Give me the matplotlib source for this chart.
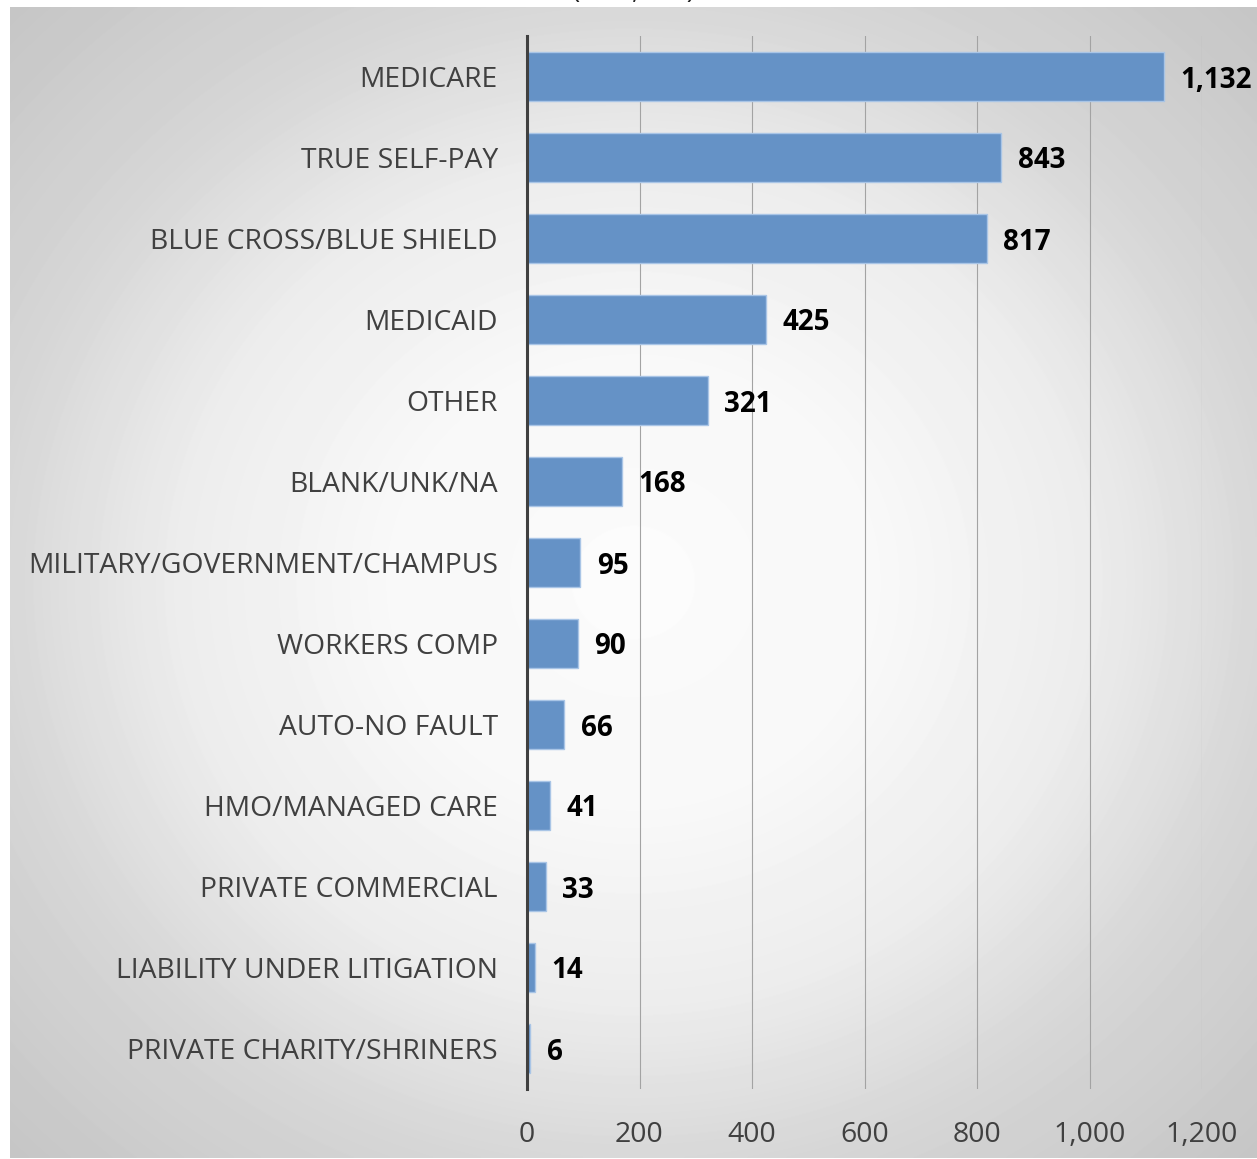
import numpy as np
import matplotlib
matplotlib.use("Agg")
import matplotlib.pyplot as plt

# Payer categories and patient counts
payers = [
    "MEDICARE", "TRUE SELF-PAY", "BLUE CROSS/BLUE SHIELD", "MEDICAID", "OTHER",
    "BLANK/UNK/NA", "MILITARY/GOVERNMENT/CHAMPUS", "WORKERS COMP",
    "AUTO-NO FAULT", "HMO/MANAGED CARE", "PRIVATE COMMERCIAL",
    "LIABILITY UNDER LITIGATION", "PRIVATE CHARITY/SHRINERS",
]
counts = [1132, 843, 817, 425, 321, 168, 95, 90, 66, 41, 33, 14, 6]
x_ticks = [0, 200, 400, 600, 800, 1000, 1200]

W, H = 1257, 1159
plt.rcParams["font.family"] = ["Open Sans", "DejaVu Sans"]

fig = plt.figure(figsize=(W / 100, H / 100), dpi=100)
fig.patch.set_facecolor("white")

# gray gradient panel, brightest at its centre
px0, py0, px1, py1 = 10, 7, 1257, 1158
bg = fig.add_axes([px0 / W, (H - py1) / H, (px1 - px0) / W, (py1 - py0) / H])
gx, gy = np.meshgrid(np.arange(px0, px1), np.arange(py0, py1))
cx, cy = (px0 + px1) / 2, (py0 + py1) / 2
r = np.hypot((gx - cx) / ((px1 - px0) / 2), (gy - cy) / ((py1 - py0) / 2))
shade = np.interp(r, [0.0, 0.4, 0.74, 1.03, 1.42], [252, 248, 236, 214, 197]) / 255
bg.imshow(shade, cmap="gray", vmin=0, vmax=1, aspect="auto",
          extent=(0, 1, 0, 1), interpolation="bilinear")
bg.axis("off")

# title line, mostly above the top edge
fig.text(634 / W, 1 + 1.5 / H, "(N=4,051)", ha="center", va="baseline",
         fontsize=20, color="#222222")

ax = fig.add_axes([527 / W, (H - 1089) / H, 675 / W, 1053 / H])
ax.set_facecolor("none")

y = np.arange(len(payers))
ax.barh(y, counts, height=0.6, color="#6592c6", edgecolor="#a9c5e6",
        linewidth=1, zorder=2)

for yi, v in zip(y, counts):
    ax.annotate(f"{v:,}", xy=(v, yi), xytext=(12, 0), textcoords="offset points",
                va="center_baseline", ha="left", fontsize=20, fontweight="bold",
                color="black", annotation_clip=False)

ax.set_xlim(0, 1200)
ax.set_ylim(len(payers) - 0.5, -0.5)
ax.set_xticks(x_ticks)
ax.set_xticklabels([f"{t:,}" for t in x_ticks])
ax.set_yticks(y)
ax.set_yticklabels(payers)

ax.grid(axis="x", color="#a3a3a3", linewidth=0.8, zorder=1)
ax.set_axisbelow(True)
for side in ("top", "right", "bottom"):
    ax.spines[side].set_visible(False)
ax.spines["left"].set_color("#404040")
ax.spines["left"].set_linewidth(2.2)
ax.spines["left"].set_zorder(3)

ax.tick_params(axis="y", length=0, pad=21, labelsize=20.3, labelcolor="#404040")
ax.tick_params(axis="x", length=0, pad=23, labelsize=20.5, labelcolor="#404040")

fig.savefig("out.png", dpi=100)
